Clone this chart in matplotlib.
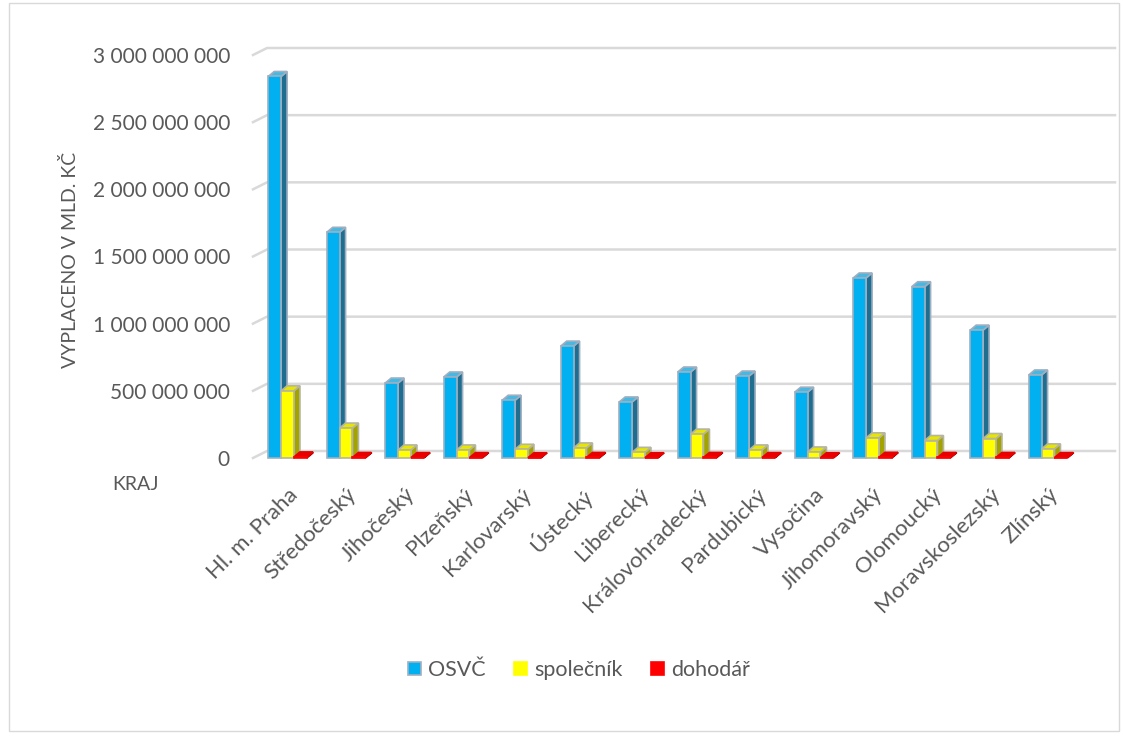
import numpy as np
import matplotlib
matplotlib.use("Agg")
import matplotlib.pyplot as plt
from matplotlib.patches import Polygon, Rectangle, Patch
from matplotlib.lines import Line2D
from matplotlib.transforms import IdentityTransform
from matplotlib.ticker import FuncFormatter

plt.rcParams['font.family'] = ['Lato', 'DejaVu Sans']

kraje = ["Hl. m. Praha", "Středočeský", "Jihočeský", "Plzeňský", "Karlovarský",
         "Ústecký", "Liberecký", "Královohradecký", "Pardubický", "Vysočina",
         "Jihomoravský", "Olomoucký", "Moravskoslezský", "Zlínský"]
osvc = [2840e6, 1680e6, 558e6, 603e6, 430e6, 833e6, 417e6,
        640e6, 610e6, 490e6, 1340e6, 1275e6, 952e6, 618e6]
spolecnik = [500e6, 223e6, 60e6, 60e6, 65e6, 75e6, 42e6,
             178e6, 60e6, 45e6, 150e6, 130e6, 145e6, 68e6]
dohodar = [8e6, 4e6, 3e6, 3e6, 2e6, 4e6, 2e6,
           4e6, 3e6, 2e6, 5e6, 4e6, 4e6, 3e6]
yticks = [0, 500e6, 1000e6, 1500e6, 2000e6, 2500e6, 3000e6]

series = [("OSVČ", osvc, "#00B0F0", "#1F6E8F", "#45B9E2"),
          ("společník", spolecnik, "#FFFF00", "#A3A300", "#E6E600"),
          ("dohodář", dohodar, "#FF0000", "#B00000", "#E80000")]

txt = "#595959"
W, H = 1123, 743
fig = plt.figure(figsize=(W / 100, H / 100), dpi=100)
ax = fig.add_axes([255 / W, (H - 458) / H, (1115 - 255) / W, (458 - 55) / H])
ax.set_xlim(-0.556, 14.145)
ax.set_ylim(0, 3000e6)
for s in ax.spines.values():
    s.set_visible(False)
ax.patch.set_alpha(0)

x = np.arange(len(kraje))
bw = 0.22
ax.set_xticks(x)
ax.set_xticklabels(kraje, rotation=45, ha="right", va="top",
                   rotation_mode="anchor", fontsize=16, color=txt)
ax.set_yticks(yticks)
ax.yaxis.set_major_formatter(FuncFormatter(lambda v, p: f"{int(v):,}".replace(",", " ")))
ax.tick_params(axis="y", length=0, pad=18, labelsize=15, labelcolor=txt)
ax.tick_params(axis="x", length=0, pad=19)

# back wall gridlines (3D look)
gdx, gdy = 12, 7
for v in yticks:
    x0, y0 = ax.transData.transform((ax.get_xlim()[0], v))
    x1, _ = ax.transData.transform((ax.get_xlim()[1], v))
    fig.add_artist(Line2D([x0 - 2, x0 + gdx, x1], [y0, y0 + gdy, y0 + gdy],
                          transform=IdentityTransform(), color="#D9D9D9",
                          lw=1.8, zorder=0))

# bars with pseudo 3D faces
dx, dy = 6, 5
for k, (name, vals, c, cside, ctop) in enumerate(series):
    off = (k - 1) * bw
    for i, v in enumerate(vals):
        xl, xr = i + off - bw / 2, i + off + bw / 2
        p00 = ax.transData.transform((xl, 0))
        p10 = ax.transData.transform((xr, 0))
        p01 = ax.transData.transform((xl, v))
        p11 = ax.transData.transform((xr, v))
        d = np.array([dx, dy])
        side = [p10, p11, p11 + d, p10 + d]
        top = [p01, p11, p11 + d, p01 + d]
        front = [p00, p10, p11, p01]
        ec = "#9EAFC2" if k == 0 else "#B5B5A0"
        for pts, col in ((side, cside), (top, ctop), (front, c)):
            fig.add_artist(Polygon(pts, closed=True, transform=IdentityTransform(),
                                   facecolor=col, edgecolor=ec if k < 2 else col,
                                   lw=1.2, zorder=2 + k))

fig.text(70 / W, (H - 260) / H, "VYPLACENO V MLD. KČ", rotation=90,
         ha="center", va="center", fontsize=14, color=txt)
fig.text(136 / W, (H - 484) / H, "KRAJ", ha="center", va="center",
         fontsize=14, color=txt)

handles = [Patch(facecolor=c, edgecolor="#9EAFC2" if k == 0 else c, lw=1.2)
           for k, (_, _, c, _, _) in enumerate(series)]
leg = fig.legend(handles, [s[0] for s in series], loc="center",
                 bbox_to_anchor=(579 / W, (H - 670) / H), ncol=3, frameon=False,
                 fontsize=15.5, handlelength=0.6, handleheight=0.6,
                 handletextpad=0.35, columnspacing=1.3)
for t in leg.get_texts():
    t.set_color(txt)

fig.add_artist(Rectangle((9 / W, 12 / H), 1110 / W, 728 / H, transform=fig.transFigure,
                         fill=False, edgecolor="#D9D9D9", lw=1))

fig.savefig("out.png", dpi=100)
